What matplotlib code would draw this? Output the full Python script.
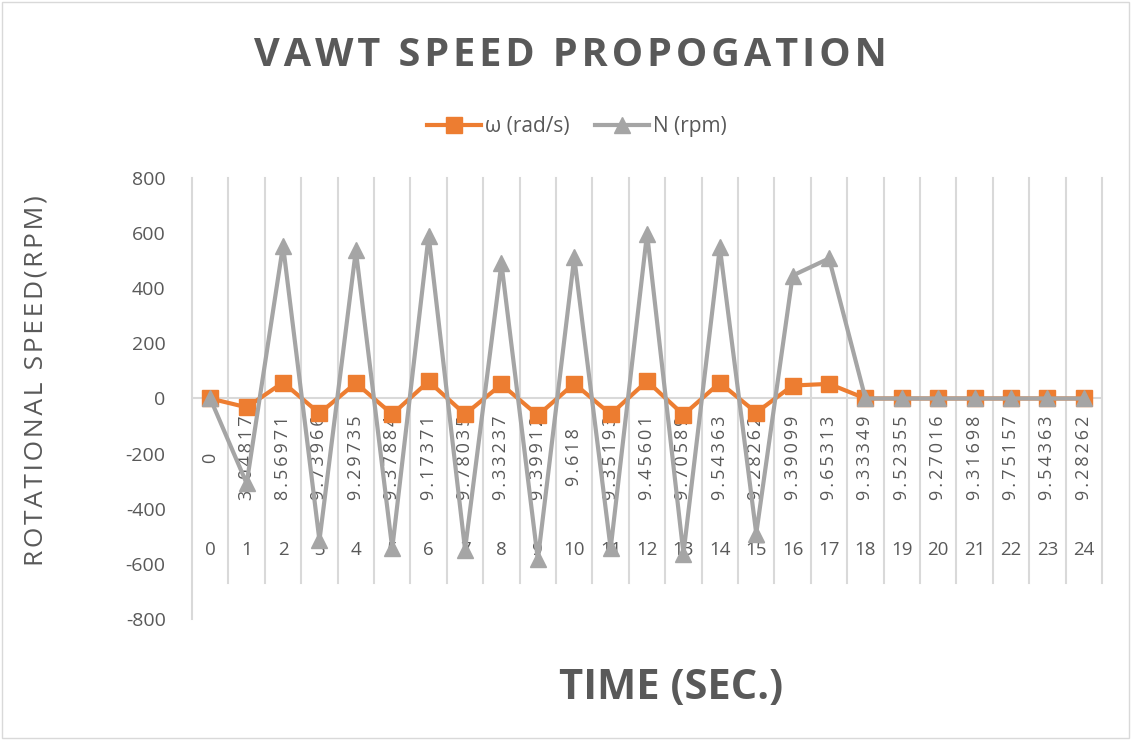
import numpy as np
from matplotlib import pyplot as plt
from matplotlib.patches import Rectangle

plt.rcParams.update({
    "font.family": ["Open Sans", "DejaVu Sans"],
    "axes.unicode_minus": False,
    })

time_labels = [str(i) for i in range(25)]
speed_labels = ["0", "3.04817", "8.56971", "9.73966", "9.29735", "9.37884", "9.17371",
                "9.78035", "9.33237", "9.39912", "9.618", "9.35193", "9.45601", "9.70589",
                "9.54363", "9.28262", "9.39099", "9.65313", "9.33349", "9.52355", "9.27016",
                "9.31698", "9.75157", "9.54363", "9.28262"]
omega = [0, -32, 58, -54, 56, -57, 62, -57, 51, -61, 54, -57, 63, -59, 57, -51, 47, 53,
         0, 0, 0, 0, 0, 0, 0]
rpm = [0, -308, 555, -515, 537, -544, 591, -548, 490, -584, 512, -544, 598, -563, 548,
       -490, 446, 508, 0, 0, 0, 0, 0, 0, 0]

orange = '#ED7D31'
grey = '#A5A5A5'
txt = '#595959'
gridc = '#D9D9D9'

def spaced(s, gap='\u200a'):
    # excel-style letter spacing
    return gap.join(s)

fig = plt.figure(figsize=[11.31, 7.40], dpi=100)
ax = fig.add_axes([0.1698, 0.1635, 0.8046, 0.596])
x = np.arange(len(time_labels))

# category divider lines run through the label area
for b in np.arange(-0.5, len(time_labels), 1.0):
    ax.plot([b, b], [800, -800 if b < 0 else -671], color=gridc, lw=1.5, zorder=0, clip_on=False)
ax.axhline(0, color=gridc, lw=1.5, zorder=0)

ax.plot(x, omega, color=orange, lw=3, marker='s', markersize=11, label='ω (rad/s)', zorder=3)
ax.plot(x, rpm, color=grey, lw=3, marker='^', markersize=12, label='N (rpm)', zorder=4)

for i in x:
    ax.text(i, -214, spaced(speed_labels[i], '\u2009'), rotation=90, ha='center', va='center',
            fontsize=13, color=txt, zorder=2)
    ax.text(i, -551, time_labels[i], ha='center', va='center', fontsize=13.5, color=txt, zorder=2)

ax.set_xlim(-0.5, len(time_labels) - 0.5)
ax.set_ylim(-800, 800)
ax.set_xticks([])
ax.set_yticks(range(-800, 801, 200))
ax.tick_params(axis='y', length=0, labelsize=14, labelcolor=txt, pad=19)
for s in ax.spines.values():
    s.set_visible(False)

fig.text(0.504, 0.925, spaced('VAWT SPEED PROPOGATION'), ha='center', va='center', fontsize=28.5,
         fontweight='bold', color=txt)
fig.text(0.593, 0.07, 'TIME (SEC.)', ha='center', va='center', fontsize=30,
         fontweight='bold', color=txt)
fig.text(0.032, 0.486, spaced('ROTATIONAL SPEED(RPM)'), ha='center', va='center', rotation=90,
         fontsize=19, color=txt)

fig.legend(loc='center', bbox_to_anchor=(0.51, 0.829), ncol=2, frameon=False,
           fontsize=15, handlelength=2.6, handletextpad=0.2, columnspacing=1.2,
           labelcolor=txt)

fig.patches.append(Rectangle((0.002, 0.003), 0.996, 0.994, transform=fig.transFigure,
                             fill=False, edgecolor=gridc, lw=1))

plt.savefig('out.png', dpi=100)
